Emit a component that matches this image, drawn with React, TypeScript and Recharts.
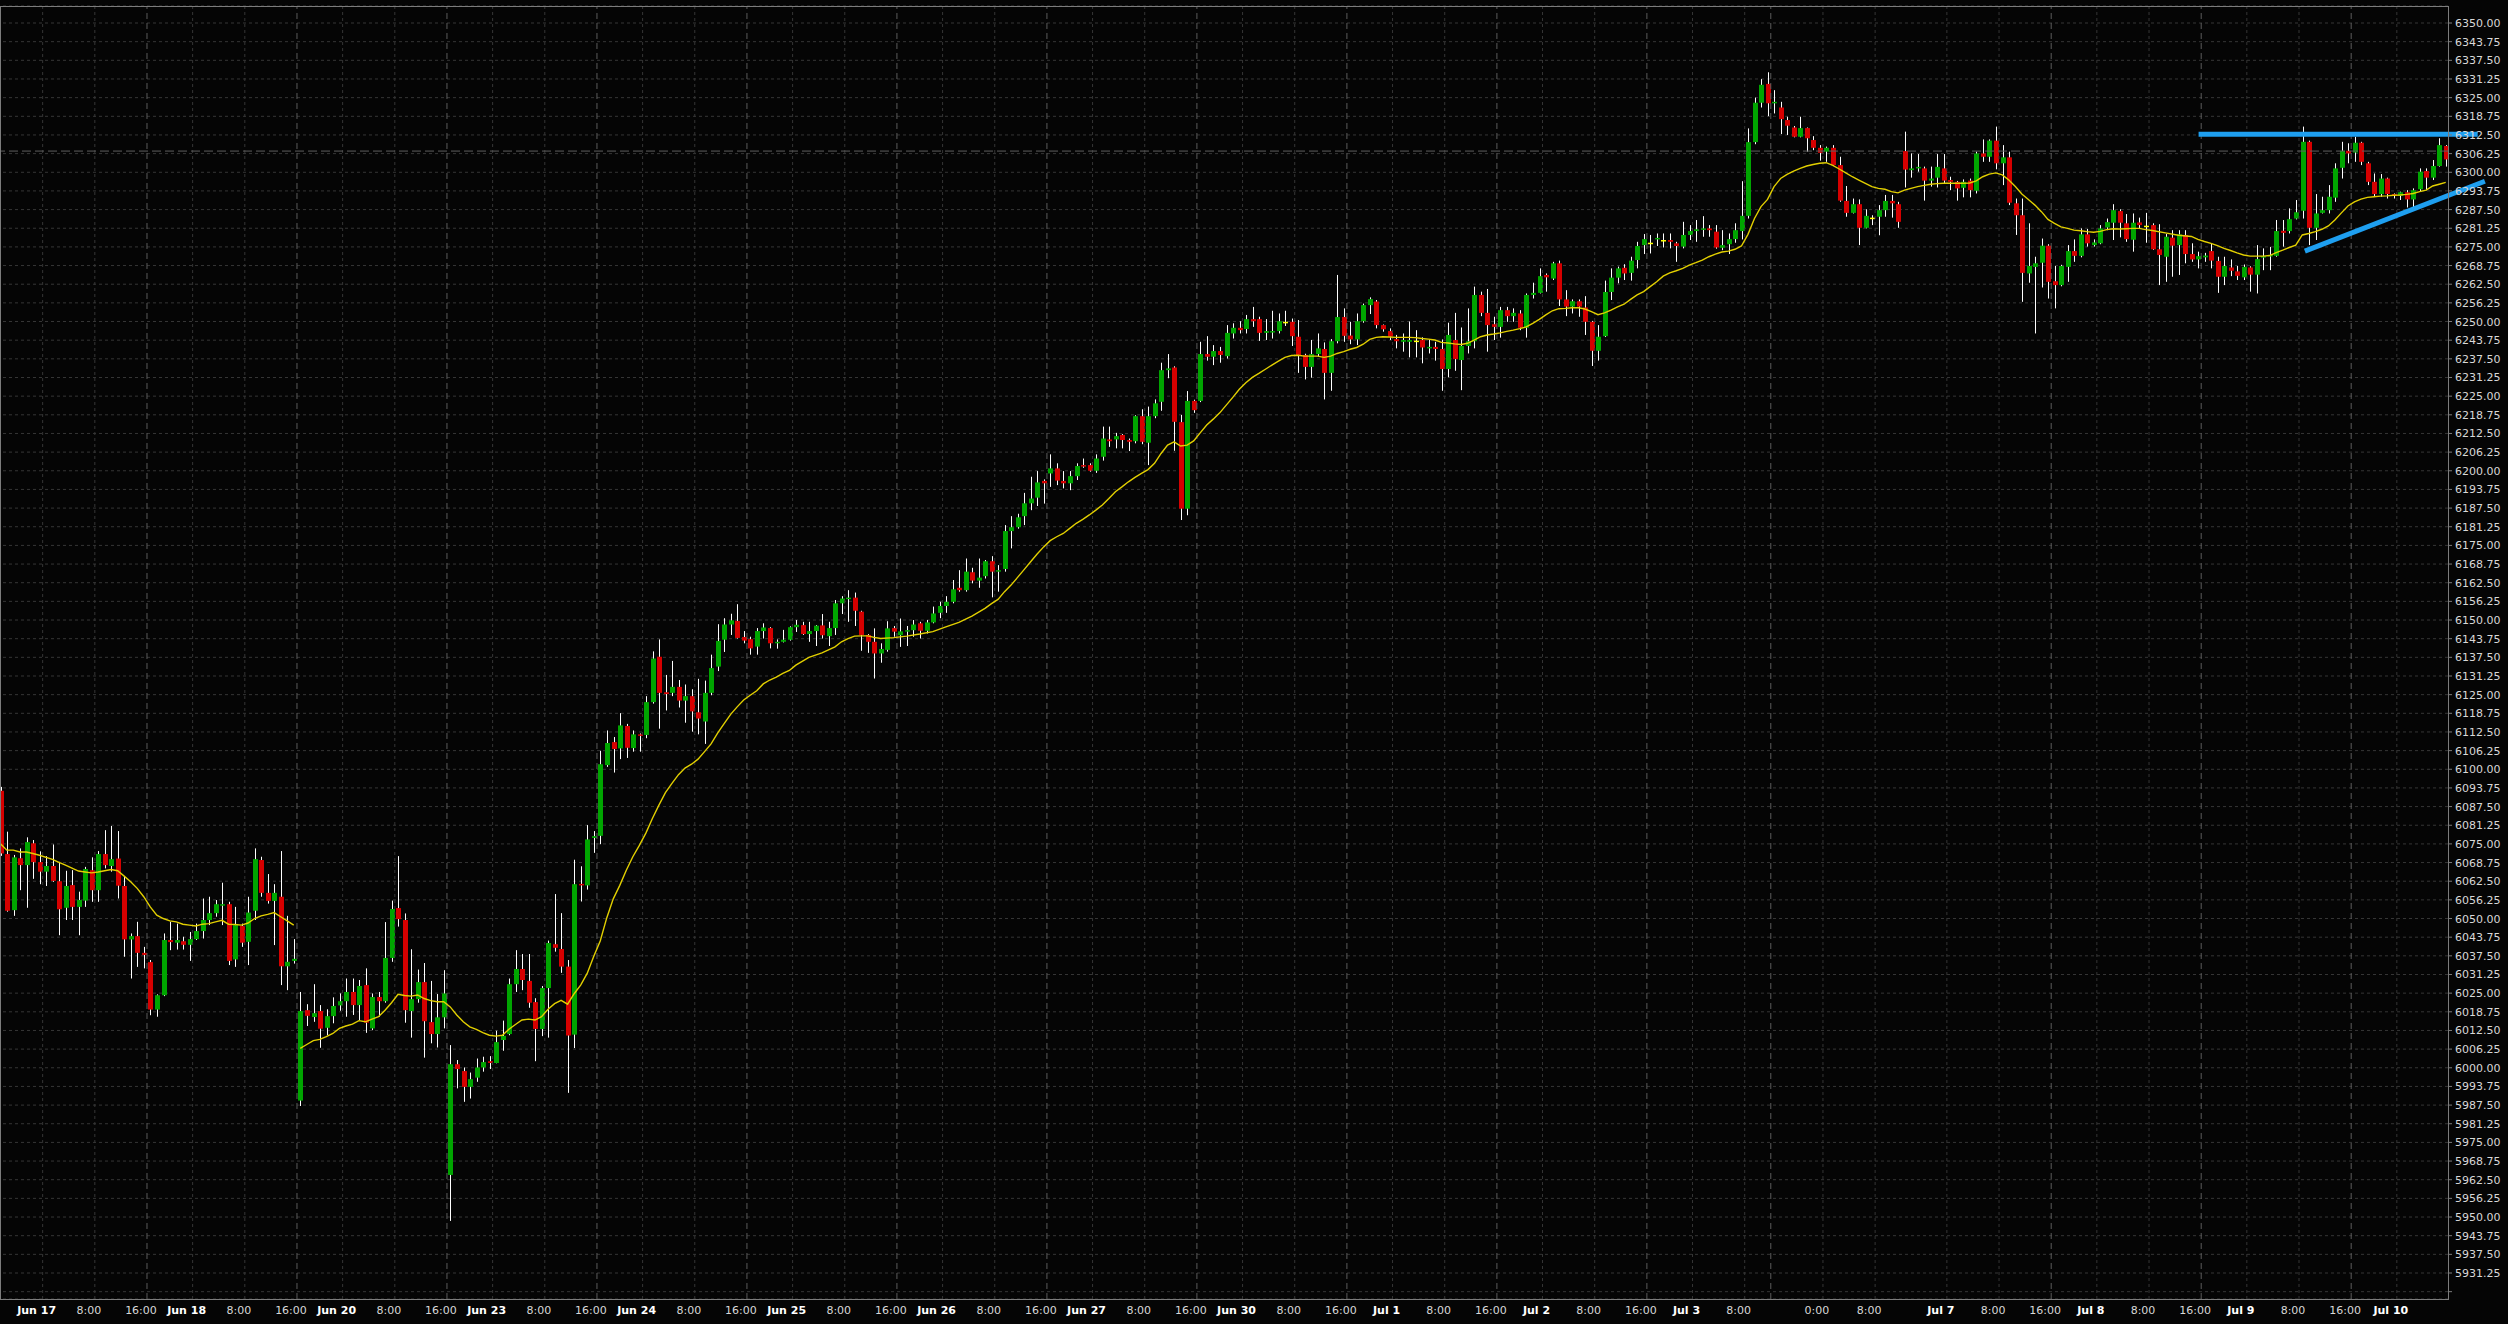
import {
  ComposedChart,
  Bar,
  Line,
  XAxis,
  YAxis,
  CartesianGrid,
  ReferenceLine,
} from "recharts";

// hourly bars, Jun 16 evening .. Jul 10 morning (index k = 0..375)
const open = [
  6092.8, 6071.6, 6052.8, 6070.2, 6067.9, 6075.2, 6068.9, 6065.7, 6067.6, 6062.5,
  6053.6, 6061.2, 6053.9, 6056.0, 6066.2, 6059.5, 6071.6, 6067.6, 6070.1, 6060.9,
  6043.0, 6044.1, 6038.5, 6035.4, 6019.5, 6024.3, 6042.8, 6041.9, 6042.4, 6041.2,
  6043.1, 6045.8, 6049.5, 6051.8, 6054.3, 6054.8, 6036.3, 6047.5, 6042.2, 6052.6,
  6069.6, 6058.6, 6055.9, 6057.3, 6034.0, 6035.8, 5989.0, 6019.3, 6017.0, 6019.0,
  6013.4, 6017.3, 6020.9, 6022.3, 6025.4, 6021.0, 6027.7, 6013.2, 6023.7, 6022.3,
  6036.8, 6053.5, 6049.5, 6019.0, 6023.0, 6028.7, 6015.3, 6011.3, 6016.9, 5964.1,
  6001.2, 5998.9, 5993.6, 5996.7, 6000.1, 6002.2, 6001.6, 6009.3, 6011.3, 6028.0,
  6033.1, 6029.1, 6022.0, 6013.0, 6026.7, 6041.4, 6039.8, 6033.9, 6011.1, 6061.6,
  6061.1, 6077.0, 6077.7, 6101.4, 6109.1, 6107.0, 6114.5, 6107.1, 6111.7, 6111.5,
  6122.5, 6137.7, 6125.8, 6125.6, 6127.6, 6123.0, 6124.5, 6119.1, 6116.0, 6125.6,
  6134.4, 6143.4, 6148.5, 6149.7, 6144.3, 6143.6, 6141.1, 6146.3, 6147.3, 6142.2,
  6142.7, 6143.4, 6147.6, 6148.3, 6145.3, 6146.3, 6148.2, 6144.6, 6147.3, 6155.6,
  6157.2, 6157.5, 6152.8, 6145.0, 6142.7, 6138.8, 6140.0, 6147.3, 6144.9, 6146.2,
  6146.6, 6148.9, 6146.4, 6149.2, 6152.4, 6154.7, 6156.1, 6160.8, 6160.0, 6166.0,
  6163.2, 6164.7, 6169.7, 6166.2, 6167.1, 6179.8, 6181.1, 6184.8, 6189.1, 6191.0,
  6196.6, 6199.1, 6200.8, 6196.6, 6195.8, 6198.2, 6201.9, 6201.9, 6200.0, 6204.7,
  6210.5, 6210.5, 6212.0, 6210.3, 6209.9, 6218.3, 6209.4, 6218.3, 6223.1, 6233.7,
  6234.6, 6216.3, 6187.3, 6223.4, 6223.4, 6239.1, 6238.2, 6240.1, 6238.4, 6246.0,
  6247.9, 6247.5, 6250.8, 6250.8, 6246.2, 6246.3, 6246.8, 6249.9, 6249.9, 6244.9,
  6238.8, 6234.8, 6239.1, 6240.8, 6232.8, 6243.4, 6251.5, 6245.3, 6244.0, 6250.1,
  6255.5, 6256.7, 6248.8, 6246.8, 6244.1, 6243.2, 6243.2, 6243.6, 6243.8, 6241.0,
  6241.5, 6240.8, 6234.1, 6243.8, 6237.1, 6241.8, 6243.4, 6258.9, 6252.9, 6249.1,
  6248.2, 6253.8, 6251.8, 6252.7, 6247.9, 6258.9, 6259.6, 6265.6, 6264.4, 6269.5,
  6257.4, 6255.0, 6256.8, 6254.7, 6249.9, 6240.2, 6245.1, 6259.9, 6264.7, 6268.0,
  6266.3, 6270.6, 6275.6, 6276.4, 6277.5, 6277.3, 6277.3, 6276.2, 6275.1, 6279.0,
  6280.3, 6280.9, 6281.2, 6280.1, 6274.7, 6275.9, 6277.6, 6280.3, 6285.4, 6310.1,
  6323.3, 6329.6, 6323.1, 6321.7, 6317.5, 6315.0, 6311.9, 6314.8, 6310.8, 6308.2,
  6306.9, 6308.2, 6302.4, 6290.4, 6286.4, 6289.3, 6281.4, 6284.8, 6285.1, 6287.3,
  6290.4, 6289.3, 6307.1, 6300.7, 6301.3, 6301.3, 6297.2, 6298.2, 6301.3, 6297.4,
  6296.8, 6294.8, 6297.2, 6293.8, 6306.3, 6305.2, 6310.6, 6303.0, 6305.0, 6289.6,
  6285.6, 6266.1, 6268.3, 6269.7, 6275.4, 6263.5, 6262.2, 6268.3, 6273.6, 6272.0,
  6279.2, 6275.6, 6276.2, 6281.5, 6283.1, 6287.0, 6282.9, 6277.4, 6283.2, 6282.1,
  6282.3, 6274.2, 6271.7, 6278.1, 6275.6, 6279.0, 6272.6, 6270.8, 6271.5, 6273.6,
  6270.3, 6265.0, 6268.1, 6266.8, 6264.8, 6268.1, 6265.7, 6271.4, 6271.9, 6272.0,
  6280.4, 6280.3, 6284.5, 6287.1, 6310.2, 6281.4, 6286.4, 6287.3, 6291.5, 6301.5,
  6307.2, 6306.6, 6309.9, 6303.0, 6296.8, 6292.7, 6297.9, 6292.7, 6292.1, 6293.3,
  6290.9, 6294.3, 6300.4, 6298.2, 6302.1, 6308.8,
];

const high = [
  6094.1, 6079.1, 6071.3, 6073.5, 6077.2, 6076.3, 6072.5, 6070.9, 6074.8, 6069.0,
  6066.0, 6066.2, 6059.0, 6067.3, 6070.5, 6072.6, 6079.6, 6081.0, 6079.3, 6064.0,
  6045.0, 6048.9, 6040.5, 6036.1, 6024.6, 6045.0, 6048.9, 6048.3, 6043.9, 6045.5,
  6048.3, 6056.7, 6057.3, 6056.2, 6062.0, 6055.6, 6053.9, 6048.3, 6057.3, 6073.5,
  6070.7, 6064.9, 6061.5, 6072.6, 6050.9, 6043.1, 6025.4, 6021.3, 6028.0, 6021.0,
  6019.6, 6023.6, 6024.9, 6029.9, 6029.9, 6029.4, 6033.3, 6024.9, 6025.4, 6048.8,
  6056.0, 6070.9, 6051.7, 6039.7, 6032.9, 6035.1, 6029.1, 6024.7, 6032.7, 6007.6,
  6002.6, 6000.1, 5998.4, 6003.1, 6003.7, 6003.9, 6012.4, 6015.8, 6029.9, 6039.4,
  6038.1, 6038.1, 6023.3, 6027.4, 6042.6, 6058.2, 6051.8, 6036.1, 6069.7, 6067.5,
  6081.3, 6079.3, 6106.2, 6113.0, 6110.8, 6118.8, 6115.2, 6113.0, 6112.0, 6124.5,
  6139.5, 6143.5, 6131.6, 6136.3, 6129.9, 6128.4, 6126.8, 6130.3, 6129.7, 6138.4,
  6148.6, 6150.6, 6152.1, 6155.3, 6146.3, 6144.4, 6147.3, 6148.9, 6147.6, 6143.5,
  6146.7, 6147.9, 6150.0, 6149.4, 6149.4, 6148.3, 6152.0, 6149.4, 6156.7, 6158.0,
  6160.0, 6159.2, 6153.1, 6145.3, 6147.2, 6142.2, 6149.6, 6148.0, 6150.5, 6148.0,
  6150.0, 6149.4, 6150.0, 6154.5, 6156.1, 6158.0, 6163.4, 6166.7, 6170.6, 6167.5,
  6170.6, 6170.1, 6171.4, 6168.4, 6181.8, 6184.8, 6185.6, 6192.6, 6198.0, 6199.9,
  6197.1, 6205.5, 6202.5, 6199.9, 6199.9, 6202.5, 6204.1, 6202.5, 6205.5, 6214.8,
  6214.8, 6212.7, 6212.3, 6210.8, 6218.6, 6220.6, 6221.5, 6223.9, 6236.2, 6239.1,
  6235.0, 6218.7, 6226.7, 6223.8, 6243.2, 6245.1, 6242.1, 6241.5, 6248.8, 6249.4,
  6250.1, 6252.2, 6254.9, 6251.6, 6250.8, 6253.6, 6252.7, 6253.6, 6251.0, 6250.5,
  6239.2, 6243.8, 6246.0, 6243.0, 6244.1, 6265.6, 6254.4, 6249.9, 6252.7, 6256.0,
  6258.1, 6257.2, 6249.0, 6247.7, 6245.5, 6246.0, 6250.0, 6247.1, 6244.7, 6244.0,
  6243.2, 6244.0, 6249.6, 6252.9, 6248.0, 6254.4, 6261.7, 6260.0, 6260.9, 6251.6,
  6254.9, 6254.9, 6254.4, 6253.8, 6259.4, 6263.0, 6267.8, 6266.1, 6270.0, 6270.4,
  6260.5, 6257.4, 6257.4, 6258.5, 6250.2, 6248.8, 6263.7, 6267.8, 6268.4, 6269.2,
  6271.7, 6276.7, 6279.3, 6279.0, 6279.5, 6279.5, 6279.5, 6276.7, 6283.4, 6282.3,
  6284.0, 6285.3, 6282.3, 6282.3, 6280.6, 6279.5, 6282.9, 6297.0, 6314.7, 6325.0,
  6331.2, 6333.5, 6327.5, 6323.6, 6318.6, 6315.5, 6318.6, 6315.0, 6312.1, 6309.1,
  6308.6, 6309.1, 6305.2, 6295.4, 6291.2, 6290.9, 6287.6, 6285.6, 6289.0, 6292.4,
  6292.4, 6290.1, 6313.6, 6306.3, 6306.1, 6301.9, 6301.9, 6306.1, 6306.1, 6298.5,
  6297.1, 6297.6, 6297.9, 6306.9, 6311.0, 6311.0, 6315.3, 6309.1, 6306.9, 6291.2,
  6291.2, 6282.9, 6271.7, 6277.8, 6275.9, 6268.6, 6269.0, 6275.6, 6277.5, 6281.2,
  6281.0, 6277.5, 6282.3, 6284.5, 6289.3, 6287.6, 6286.0, 6286.2, 6284.8, 6286.4,
  6282.9, 6282.6, 6279.3, 6280.6, 6280.6, 6280.6, 6276.2, 6273.4, 6273.0, 6276.2,
  6271.7, 6271.7, 6270.8, 6268.6, 6269.1, 6268.5, 6275.6, 6274.5, 6275.0, 6284.0,
  6284.0, 6287.9, 6290.7, 6315.3, 6310.6, 6292.7, 6291.8, 6295.7, 6303.0, 6310.2,
  6309.7, 6311.9, 6310.2, 6303.5, 6299.6, 6299.4, 6298.2, 6292.9, 6293.5, 6294.0,
  6294.6, 6301.3, 6301.3, 6304.1, 6311.4, 6309.1,
];

const low = [
  6071.0, 6052.3, 6050.9, 6059.5, 6053.6, 6063.3, 6061.5, 6060.9, 6062.3, 6044.4,
  6049.5, 6049.5, 6044.4, 6053.9, 6055.6, 6055.6, 6066.8, 6065.7, 6056.7, 6037.2,
  6029.9, 6033.8, 6033.3, 6017.6, 6017.1, 6024.0, 6039.4, 6039.6, 6039.6, 6035.8,
  6042.8, 6043.3, 6047.8, 6050.6, 6047.8, 6034.4, 6033.8, 6040.5, 6034.4, 6049.5,
  6057.3, 6055.0, 6041.1, 6027.7, 6026.0, 6034.9, 5987.2, 6014.0, 6015.4, 6006.7,
  6010.9, 6014.9, 6019.1, 6017.1, 6017.7, 6016.0, 6011.7, 6012.6, 6017.1, 6021.8,
  6035.5, 6047.3, 6015.1, 6010.1, 6021.8, 6003.4, 6008.2, 6006.8, 6013.2, 5948.7,
  5993.1, 5988.6, 5989.7, 5995.3, 5998.7, 5999.6, 6001.5, 6005.7, 6010.9, 6025.4,
  6026.0, 6020.1, 6002.2, 6010.6, 6010.1, 6038.9, 6031.8, 5991.6, 6006.6, 6055.7,
  6059.7, 6072.0, 6074.9, 6100.8, 6098.9, 6103.4, 6103.8, 6105.9, 6105.9, 6110.4,
  6122.0, 6113.6, 6119.7, 6124.5, 6120.7, 6115.6, 6112.6, 6111.7, 6108.5, 6124.8,
  6132.9, 6139.3, 6145.0, 6143.8, 6142.2, 6138.4, 6138.4, 6143.8, 6140.5, 6140.4,
  6142.5, 6143.1, 6146.0, 6145.0, 6142.7, 6141.3, 6143.8, 6141.3, 6145.0, 6152.0,
  6149.4, 6148.0, 6139.7, 6139.0, 6130.4, 6135.7, 6139.4, 6144.4, 6141.0, 6141.3,
  6144.4, 6143.8, 6145.5, 6148.9, 6150.6, 6152.4, 6155.6, 6159.5, 6159.5, 6162.3,
  6160.8, 6163.9, 6157.6, 6159.5, 6166.2, 6174.0, 6180.6, 6181.8, 6186.8, 6188.2,
  6189.0, 6194.6, 6195.2, 6194.1, 6193.5, 6196.9, 6201.0, 6199.7, 6199.3, 6203.4,
  6208.0, 6207.5, 6207.5, 6206.6, 6209.2, 6208.9, 6201.9, 6217.6, 6220.1, 6231.0,
  6206.7, 6183.5, 6185.1, 6219.4, 6223.0, 6236.9, 6235.4, 6236.2, 6237.6, 6244.3,
  6246.0, 6246.0, 6248.2, 6243.5, 6243.8, 6244.3, 6246.0, 6248.5, 6241.8, 6232.8,
  6230.6, 6231.2, 6238.2, 6223.9, 6226.8, 6242.7, 6243.2, 6242.4, 6242.1, 6249.6,
  6252.5, 6247.7, 6246.6, 6243.8, 6241.0, 6239.9, 6238.0, 6238.0, 6236.0, 6239.3,
  6236.9, 6226.8, 6231.3, 6233.5, 6227.0, 6239.3, 6241.0, 6251.8, 6239.9, 6243.8,
  6244.6, 6249.9, 6249.9, 6247.1, 6244.6, 6257.7, 6259.4, 6260.0, 6263.9, 6255.2,
  6251.8, 6252.7, 6251.6, 6245.5, 6235.1, 6236.9, 6244.8, 6257.2, 6262.8, 6263.9,
  6263.7, 6267.8, 6272.6, 6272.8, 6275.3, 6274.8, 6274.5, 6270.0, 6274.5, 6277.3,
  6276.7, 6278.4, 6278.4, 6274.4, 6273.9, 6272.6, 6276.4, 6277.5, 6284.5, 6309.4,
  6321.7, 6318.8, 6319.7, 6312.8, 6312.5, 6311.7, 6311.7, 6306.9, 6307.4, 6303.9,
  6303.5, 6302.1, 6290.1, 6285.1, 6286.2, 6275.6, 6281.2, 6282.3, 6278.9, 6285.1,
  6284.8, 6281.4, 6294.9, 6298.2, 6300.2, 6290.5, 6295.2, 6294.9, 6296.3, 6294.0,
  6290.5, 6291.6, 6291.6, 6292.9, 6303.5, 6303.5, 6301.0, 6295.7, 6289.0, 6279.0,
  6256.6, 6263.0, 6246.0, 6261.4, 6257.7, 6254.4, 6261.8, 6263.3, 6270.0, 6271.5,
  6275.1, 6275.1, 6275.9, 6280.6, 6277.3, 6278.2, 6276.7, 6273.4, 6281.2, 6276.4,
  6274.0, 6262.2, 6263.3, 6265.0, 6265.6, 6269.5, 6270.0, 6267.8, 6270.0, 6267.8,
  6259.6, 6262.2, 6265.2, 6263.9, 6263.9, 6260.0, 6259.4, 6267.2, 6267.2, 6271.7,
  6275.1, 6279.5, 6284.2, 6284.5, 6275.6, 6277.3, 6286.2, 6286.2, 6290.1, 6297.9,
  6303.0, 6303.5, 6302.4, 6295.7, 6291.8, 6291.8, 6291.2, 6291.2, 6290.7, 6288.2,
  6288.2, 6293.5, 6294.0, 6297.4, 6301.9, 6301.9,
];

const close = [
  6071.8, 6052.6, 6070.5, 6067.9, 6075.6, 6068.9, 6065.7, 6067.6, 6062.6, 6053.1,
  6060.9, 6053.9, 6056.2, 6066.6, 6059.5, 6071.6, 6067.9, 6069.9, 6061.0, 6043.0,
  6044.1, 6038.5, 6037.8, 6019.5, 6024.3, 6042.8, 6042.1, 6042.8, 6041.2, 6043.1,
  6045.8, 6049.5, 6051.8, 6054.8, 6054.8, 6035.8, 6047.8, 6041.9, 6052.0, 6069.9,
  6058.6, 6055.9, 6058.6, 6034.0, 6035.5, 6036.5, 6019.0, 6017.4, 6018.3, 6013.1,
  6017.3, 6020.7, 6022.3, 6025.4, 6021.0, 6027.4, 6015.1, 6023.7, 6022.3, 6036.8,
  6053.2, 6049.8, 6019.3, 6023.0, 6028.7, 6015.6, 6011.3, 6016.9, 6024.9, 6001.2,
  5999.6, 5993.6, 5996.2, 6000.1, 6001.9, 6001.6, 6008.6, 6010.7, 6028.0, 6033.1,
  6029.4, 6021.8, 6013.0, 6026.7, 6041.8, 6040.2, 6033.9, 6010.8, 6061.5, 6061.1,
  6076.5, 6077.6, 6101.7, 6108.8, 6106.8, 6114.7, 6107.2, 6111.7, 6111.3, 6122.5,
  6137.1, 6125.6, 6125.2, 6127.6, 6123.0, 6124.5, 6119.4, 6117.0, 6125.6, 6133.9,
  6143.0, 6148.5, 6149.9, 6144.0, 6143.1, 6140.5, 6146.3, 6147.5, 6142.2, 6142.7,
  6143.4, 6147.6, 6148.4, 6145.3, 6146.3, 6148.1, 6144.9, 6147.3, 6155.6, 6157.2,
  6157.5, 6153.1, 6145.0, 6142.7, 6138.8, 6140.3, 6147.2, 6146.1, 6146.2, 6146.6,
  6148.5, 6146.4, 6149.2, 6152.2, 6154.7, 6156.1, 6160.3, 6160.0, 6166.2, 6163.2,
  6164.2, 6169.7, 6166.2, 6166.7, 6179.8, 6181.1, 6184.4, 6189.1, 6190.7, 6196.1,
  6195.8, 6200.8, 6196.7, 6195.8, 6198.2, 6201.6, 6201.4, 6200.0, 6204.1, 6210.8,
  6209.9, 6211.6, 6210.3, 6209.7, 6218.3, 6209.7, 6218.3, 6222.6, 6233.7, 6234.3,
  6216.4, 6187.3, 6223.4, 6220.3, 6239.1, 6238.2, 6240.1, 6238.8, 6246.2, 6247.9,
  6247.1, 6250.8, 6250.1, 6246.2, 6246.8, 6246.8, 6250.1, 6249.9, 6245.1, 6238.8,
  6234.8, 6239.1, 6241.0, 6232.8, 6243.4, 6251.5, 6245.2, 6244.0, 6250.1, 6255.5,
  6257.5, 6248.8, 6247.4, 6244.9, 6243.4, 6243.8, 6243.8, 6243.6, 6241.3, 6241.5,
  6240.8, 6234.1, 6245.5, 6237.4, 6241.8, 6243.4, 6258.9, 6252.9, 6248.8, 6248.2,
  6253.8, 6251.8, 6252.9, 6247.9, 6258.9, 6259.6, 6265.2, 6264.8, 6269.5, 6257.4,
  6255.0, 6256.8, 6255.0, 6249.9, 6240.2, 6244.9, 6259.9, 6264.7, 6267.8, 6266.1,
  6270.4, 6275.3, 6277.6, 6276.4, 6278.0, 6277.3, 6276.7, 6275.3, 6279.0, 6280.3,
  6280.9, 6281.2, 6280.6, 6274.8, 6275.6, 6277.6, 6280.6, 6285.4, 6310.1, 6323.3,
  6329.3, 6323.1, 6323.6, 6317.8, 6315.6, 6311.9, 6314.8, 6311.4, 6308.2, 6306.5,
  6308.2, 6302.4, 6290.5, 6286.4, 6289.3, 6281.4, 6285.4, 6284.8, 6287.3, 6290.4,
  6289.6, 6283.4, 6300.9, 6301.3, 6301.8, 6297.2, 6297.9, 6301.8, 6297.2, 6296.8,
  6294.6, 6296.8, 6294.0, 6306.3, 6305.2, 6310.6, 6303.0, 6305.0, 6289.8, 6285.6,
  6266.3, 6268.6, 6269.5, 6275.4, 6263.3, 6262.2, 6268.6, 6273.6, 6272.0, 6279.2,
  6276.2, 6276.5, 6281.2, 6283.3, 6287.3, 6283.1, 6277.6, 6283.1, 6282.3, 6282.1,
  6274.2, 6272.3, 6278.4, 6275.4, 6279.2, 6272.6, 6270.8, 6271.9, 6272.1, 6270.4,
  6265.0, 6268.6, 6267.0, 6265.3, 6268.3, 6265.7, 6270.9, 6271.9, 6272.3, 6280.3,
  6279.7, 6284.3, 6286.6, 6310.2, 6281.4, 6286.2, 6287.3, 6291.8, 6301.3, 6307.2,
  6306.3, 6309.9, 6303.5, 6296.8, 6292.7, 6297.9, 6292.7, 6292.1, 6293.3, 6290.9,
  6294.0, 6300.2, 6298.2, 6302.1, 6309.1, 6304.3,
];

// yellow average (null = not read); it restarts at bar 46
const ma = [
  6075.1, 6072.9, 6072.9, 6072.3, 6072.3, 6071.8, 6071.2, null, 6069.8, 6068.8,
  6067.9, 6066.9, 6065.9, 6065.6, 6065.3, 6065.6, 6066.0, 6066.4, 6066.0, 6064.2,
  6062.3, 6060.1, 6057.3, 6053.9, 6051.1, 6050.0, 6049.2, 6048.9, 6048.1, 6047.8,
  6047.5, 6048.1, 6048.3, 6048.9, 6049.4, 6048.1, 6048.0, 6047.8, 6048.5, 6050.0,
  6050.9, 6051.4, 6052.0, 6050.6, 6049.2, 6047.8, 6006.5, 6007.8, 6009.1, 6009.5,
  6010.4, 6011.5, 6013.2, 6014.0, 6014.6, 6015.8, 6015.4, 6016.3, 6017.1, 6019.3,
  6021.8, 6024.6, 6024.2, 6024.0, 6024.4, 6023.2, 6022.5, 6022.1, 6022.1, 6020.4,
  6017.7, 6015.4, 6013.7, 6012.9, 6011.8, 6010.9, 6010.6, 6010.9, 6012.9, 6014.5,
  6016.0, 6016.3, 6016.0, 6017.1, 6019.6, 6021.5, 6022.6, 6021.3, 6024.8, 6027.7,
  6031.6, 6037.3, 6042.5, 6050.2, 6056.6, 6061.1, 6066.2, 6070.7, 6074.5, 6078.6,
  6083.5, 6088.0, 6092.2, 6095.3, 6098.2, 6100.4, 6101.7, 6103.4, 6105.9, 6108.5,
  6112.1, 6115.3, 6118.4, 6120.9, 6123.2, 6124.8, 6126.3, 6128.6, 6129.9, 6130.9,
  6132.1, 6133.1, 6134.9, null, 6137.5, null, 6139.0, null, 6141.0, 6142.7,
  6143.8, 6144.6, 6144.7, 6144.7, 6144.2, 6143.8, null, 6144.1, null, 6144.6,
  null, 6145.3, null, 6146.1, null, 6147.7, null, 6149.2, null, 6151.3,
  null, 6153.9, 6155.5, 6156.9, 6159.5, 6161.7, 6164.3, 6166.9, 6169.5, 6172.1,
  6174.5, 6176.6, 6177.9, 6179.0, 6180.7, 6182.4, 6183.7, 6185.2, 6186.8, 6188.5,
  6190.7, 6193.0, 6194.6, 6196.3, 6197.8, 6199.1, 6200.4, 6202.5, 6205.8, 6208.6,
  6209.7, 6208.3, 6208.6, 6210.0, 6212.7, 6215.3, 6217.3, 6219.4, 6222.0, 6224.6,
  6227.3, 6229.5, 6231.3, 6232.6, 6234.0, 6235.4, 6236.7, 6238.0, 6238.6, 6238.7,
  6238.4, 6238.4, 6238.4, 6238.0, 6238.4, 6239.3, 6239.9, 6240.7, 6241.3, 6242.4,
  6244.0, 6244.7, 6244.9, 6244.8, 6244.7, 6244.7, 6244.7, 6244.6, 6244.3, 6244.1,
  6243.8, 6243.0, 6242.8, 6242.5, 6242.3, 6242.7, 6243.8, 6244.9, 6245.5, 6245.8,
  6246.2, 6246.7, 6247.1, 6247.6, 6248.2, 6249.4, 6250.7, 6252.2, 6253.6, 6254.3,
  6254.4, 6254.6, 6254.6, 6254.2, 6253.3, 6252.3, 6252.9, 6253.8, 6254.9, 6255.8,
  6257.4, 6258.9, 6260.0, 6261.7, 6263.3, 6265.2, 6266.3, 6267.0, 6267.8, 6268.9,
  6269.7, 6270.6, 6271.7, 6272.6, 6273.3, 6273.6, 6274.2, 6275.3, 6279.2, 6284.5,
  6288.5, 6290.9, 6295.2, 6297.9, 6299.3, 6300.4, 6301.3, 6302.1, 6302.6, 6303.0,
  6303.2, 6302.3, 6301.1, 6299.8, 6298.5, 6297.4, 6296.3, 6295.2, 6294.6, 6294.3,
  6293.5, 6293.1, 6294.0, 6294.6, 6295.2, 6295.6, 6296.0, 6296.2, 6296.3, 6296.3,
  6296.3, 6296.3, 6296.4, 6297.1, 6298.5, 6299.4, 6299.8, 6299.1, 6297.4, 6295.2,
  6292.7, 6290.9, 6289.0, 6286.8, 6284.2, 6282.9, 6281.7, 6281.2, 6280.6, 6280.4,
  6280.1, 6279.9, 6280.2, 6280.8, 6281.1, 6281.0, 6281.1, 6281.2, 6281.2, 6280.8,
  6280.5, null, 6279.7, null, 6278.9, null, 6278.5, 6277.5, 6276.8, 6276.2,
  6275.4, 6274.5, 6273.8, 6273.0, 6272.3, 6271.9, 6271.9, 6271.9, 6272.1, 6273.1,
  6273.9, 6274.8, 6275.6, 6279.0, 6279.5, 6280.1, 6280.9, 6282.0, 6284.0, 6286.4,
  6288.7, 6290.1, 6291.0, 6291.6, 6291.8, 6292.0, 6292.1, 6292.3, 6292.4, 6292.6,
  6292.9, 6293.5, 6294.0, 6295.4, 6296.0, 6296.6,
];
const maRestart = 46;

// x-axis labels sit on the boundaries between bars
const tickIndex = [
  6.5, 14.5, 22.5, 29.5, 37.5, 45.5, 52.5, 60.5, 68.5, 75.5, 83.5, 91.5,
  98.5, 106.5, 114.5, 121.5, 129.5, 137.5, 144.5, 152.5, 160.5, 167.5, 175.5,
  183.5, 190.5, 198.5, 206.5, 213.5, 221.5, 229.5, 236.5, 244.5, 252.5, 259.5,
  267.5, 279.5, 287.5, 298.5, 306.5, 314.5, 321.5, 329.5, 337.5, 344.5, 352.5,
  360.5, 367.5,
];
const tickLabel = [
  "Jun 17", "8:00", "16:00", "Jun 18", "8:00", "16:00", "Jun 20", "8:00", "16:00",
  "Jun 23", "8:00", "16:00", "Jun 24", "8:00", "16:00", "Jun 25", "8:00", "16:00",
  "Jun 26", "8:00", "16:00", "Jun 27", "8:00", "16:00", "Jun 30", "8:00", "16:00",
  "Jul 1", "8:00", "16:00", "Jul 2", "8:00", "16:00", "Jul 3", "8:00", "0:00",
  "8:00", "Jul 7", "8:00", "16:00", "Jul 8", "8:00", "16:00", "Jul 9", "8:00",
  "16:00", "Jul 10",
];
const sessionEnds = [
  22.5, 45.5, 68.5, 91.5, 114.5, 137.5, 160.5, 183.5, 206.5, 229.5, 252.5,
  271.5, 314.5, 337.5, 360.5,
];

const yTicks = [
  5925, 5931.25, 5937.5, 5943.75, 5950, 5956.25, 5962.5, 5968.75, 5975, 5981.25,
  5987.5, 5993.75, 6000, 6006.25, 6012.5, 6018.75, 6025, 6031.25, 6037.5, 6043.75,
  6050, 6056.25, 6062.5, 6068.75, 6075, 6081.25, 6087.5, 6093.75, 6100, 6106.25,
  6112.5, 6118.75, 6125, 6131.25, 6137.5, 6143.75, 6150, 6156.25, 6162.5, 6168.75,
  6175, 6181.25, 6187.5, 6193.75, 6200, 6206.25, 6212.5, 6218.75, 6225, 6231.25,
  6237.5, 6243.75, 6250, 6256.25, 6262.5, 6268.75, 6275, 6281.25, 6287.5, 6293.75,
  6300, 6306.25, 6312.5, 6318.75, 6325, 6331.25, 6337.5, 6343.75, 6350,
];

const lastPrice = 6307.1;

// hand drawn trend lines: [bar index, price]
const resistance = [[337.1, 6312.7], [379.9, 6312.7]];
const support = [[353.4, 6273.6], [381.0, 6297.0]];

const GREEN = "#00a500";
const RED = "#d60000";
const DOJI = "#ffff00";
const AXIS = "#7c7c7c";
const FONT = "DejaVu Sans, Verdana, sans-serif";
const LABEL_BASELINE = 1314;

const data = open.map((o, k) => ({
  k,
  open: o,
  high: high[k],
  low: low[k],
  close: close[k],
  range: [low[k], high[k]],
  maA: k < maRestart ? ma[k] : null,
  maB: k >= maRestart ? ma[k] : null,
}));

const Candle = (props: any) => {
  const { x, y, width, height, payload } = props;
  const top = Math.min(y, y + height);
  const h = Math.abs(height);
  const { open: o, close: c, high: hi, low: lo } = payload;
  const px = (v: number) => top + ((hi - v) / (hi - lo || 1)) * h;
  const cx = Math.round(x + width / 2) + 0.5;
  const b1 = px(Math.max(o, c));
  const b2 = px(Math.min(o, c));
  const color = c > o ? GREEN : c < o ? RED : DOJI;
  return (
    <g>
      <line x1={cx} x2={cx} y1={top} y2={top + h} stroke="#ffffff" strokeWidth={1} />
      <rect x={cx - 2.5} y={b1} width={5} height={Math.max(b2 - b1, 1.5)} fill={color} />
    </g>
  );
};

const XTick = ({ x, payload }: any) => {
  const i = tickIndex.indexOf(payload.value);
  const text = i >= 0 ? tickLabel[i] : "";
  const isDate = !text.includes(":");
  return (
    <text
      x={x - 6}
      y={LABEL_BASELINE}
      textAnchor="middle"
      fill={isDate ? "#ffffff" : "#d8d8d8"}
      fontSize={11}
      fontWeight={isDate ? "bold" : "normal"}
      fontFamily={FONT}
    >
      {text}
    </text>
  );
};

const YTick = ({ x, y, payload }: any) => {
  if (payload.value === 5925) return <g />;
  return (
    <text x={x} y={y} dy={4} textAnchor="start" fill="#d8d8d8" fontSize={11} fontFamily={FONT}>
      {payload.value.toFixed(2)}
    </text>
  );
};

export default function App() {
  return (
    <div
      style={{
        position: "absolute",
        left: 0,
        top: 0,
        width: 2508,
        height: 1324,
        background: "#050505",
        overflow: "hidden",
      }}
    >
      <div style={{ position: "absolute", left: -3.5, top: 0 }}>
        <ComposedChart
          width={2512}
          height={1324}
          data={data}
          margin={{ top: 6, right: 0, bottom: 0, left: 0 }}
          barCategoryGap={0}
        >
          <CartesianGrid xAxisId="n" vertical={false} stroke="#363636" strokeDasharray="3 3" />
          <XAxis xAxisId="c" dataKey="k" type="category" hide />
          <XAxis
            xAxisId="n"
            dataKey="k"
            type="number"
            domain={[-0.5, 375.5]}
            allowDataOverflow
            ticks={tickIndex}
            interval={0}
            tick={<XTick />}
            tickLine={false}
            axisLine={false}
            height={25}
          />
          <YAxis
            orientation="right"
            domain={[5922.54, 6355.7]}
            allowDataOverflow
            ticks={yTicks}
            interval={0}
            width={60}
            tick={<YTick />}
            tickSize={3}
            tickMargin={3}
            tickLine={{ stroke: AXIS }}
            axisLine={false}
          />
          {tickIndex
            .filter((t) => !sessionEnds.includes(t))
            .map((t) => (
              <ReferenceLine key={"g" + t} xAxisId="n" x={t} stroke="#363636" strokeDasharray="3 3" />
            ))}
          {sessionEnds.map((t) => (
            <ReferenceLine key={"s" + t} xAxisId="n" x={t} stroke="#5c5c5c" strokeDasharray="6 4" />
          ))}
          <ReferenceLine xAxisId="n" y={lastPrice} stroke="#5e5e5e" strokeDasharray="9 4" />
          <Bar
            xAxisId="c"
            dataKey="range"
            barSize={5}
            shape={<Candle />}
            isAnimationActive={false}
          />
          <Line
            xAxisId="c"
            dataKey="maA"
            stroke="#e2cf00"
            strokeWidth={1.4}
            dot={false}
            activeDot={false}
            connectNulls
            isAnimationActive={false}
          />
          <Line
            xAxisId="c"
            dataKey="maB"
            stroke="#e2cf00"
            strokeWidth={1.4}
            dot={false}
            activeDot={false}
            connectNulls
            isAnimationActive={false}
          />
          <ReferenceLine
            xAxisId="n"
            segment={resistance.map(([x, y]) => ({ x, y }))}
            stroke="#1e9ff0"
            strokeWidth={5}
            ifOverflow="visible"
          />
          <ReferenceLine
            xAxisId="n"
            segment={support.map(([x, y]) => ({ x, y }))}
            stroke="#1e9ff0"
            strokeWidth={5}
            ifOverflow="visible"
          />
        </ComposedChart>
      </div>
      <div
        style={{
          position: "absolute",
          left: 0,
          top: 6,
          width: 2449,
          height: 1294,
          boxSizing: "border-box",
          border: `1px solid ${AXIS}`,
          pointerEvents: "none",
        }}
      />
    </div>
  );
}
